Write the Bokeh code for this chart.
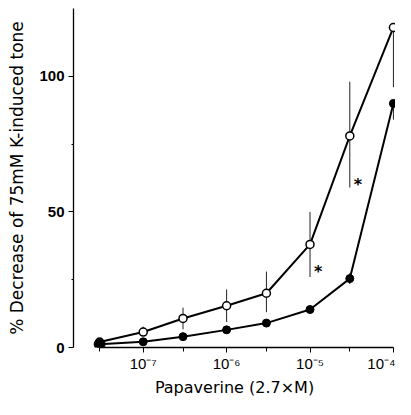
import math
from bokeh.plotting import figure
from bokeh.models import Range1d, FixedTicker, CustomJSTickFormatter, ColumnDataSource
from bokeh.core.properties import value
from bokeh.embed import file_html
from bokeh.resources import INLINE

# concentrations (2.7 x M)
conc = [3e-8, 1e-7, 3e-7, 1e-6, 3e-6, 1e-5, 3e-5, 1e-4]
# open circles
open_mean = [2, 5.7, 10.7, 15.4, 20, 38, 78, 118]
open_err_up = [0, 2, 4, 6, 8, 12, 20, 0]
open_err_dn = [0, 0, 4, 6, 7, 12, 19, 22]
# filled circles
filled_mean = [1.2, 2.1, 4, 6.5, 9, 14, 25.4, 90]
filled_err_up = [0, 0, 0, 0, 0, 0, 2, 0]
filled_err_dn = [0, 0, 0, 0, 0, 0, 2, 6]
# significance marks
star_x = [1e-5, 3e-5]
star_y = [28, 60]
star_txt = ["*", "*"]

y_ticks = [0, 50, 100]
y_minor = [25, 75]
x_ticks = [1e-7, 1e-6, 1e-5, 1e-4]
x_minor = [3e-8, 3e-7, 3e-6, 3e-5]

p = figure(width=395, height=399, x_axis_type="log",
           x_range=Range1d(10 ** -7.836, 10 ** -3.975), y_range=Range1d(0, 125),
           output_backend="svg", toolbar_location=None,
           min_border_left=73, min_border_right=0, min_border_top=8, min_border_bottom=45)
p.outline_line_color = None
p.grid.visible = False
p.background_fill_color = "white"
p.border_fill_color = "white"

src_o = ColumnDataSource(dict(x=conc, y=open_mean,
                              lo=[m - e for m, e in zip(open_mean, open_err_dn)],
                              hi=[min(m + e, 125) for m, e in zip(open_mean, open_err_up)]))
src_f = ColumnDataSource(dict(x=conc, y=filled_mean,
                              lo=[m - e for m, e in zip(filled_mean, filled_err_dn)],
                              hi=[m + e for m, e in zip(filled_mean, filled_err_up)]))

for src in (src_o, src_f):
    p.segment(x0="x", y0="lo", x1="x", y1="hi", source=src, line_color="#222222", line_width=1)

p.line("x", "y", source=src_o, line_color="black", line_width=2)
p.line("x", "y", source=src_f, line_color="black", line_width=2)
p.scatter("x", "y", source=src_f, size=8, fill_color="black", line_color="black")
p.scatter("x", "y", source=src_o, size=8, fill_color="white", line_color="black", line_width=1.5)
p.scatter(x=conc[:1], y=filled_mean[:1], size=11, fill_color="black", line_color="black")

p.text(x=star_x, y=star_y, text=star_txt, x_offset=4, text_baseline="middle", text_align="left",
       text_font=value("DejaVu Sans"), text_font_size="16px", text_font_style="bold",
       text_color="black")

# axes
yax = p.yaxis[0]
yax.ticker = FixedTicker(ticks=y_ticks, minor_ticks=y_minor)
yax.bounds = (0, 125)
yax.axis_label = "% Decrease of 75mM K-induced tone"
yax.axis_label_text_font = "DejaVu Sans"
yax.axis_label_text_font_size = "17px"
yax.axis_label_text_font_style = "normal"
yax.axis_label_standoff = 9
yax.major_label_text_font = "Liberation Sans"
yax.major_label_text_font_size = "15px"
yax.major_label_text_font_style = "bold"
yax.major_label_standoff = 4
yax.major_tick_in = 0
yax.major_tick_out = 5
yax.minor_tick_in = 0
yax.minor_tick_out = 2
yax.axis_line_width = 1.3

xax = p.xaxis[0]
xax.ticker = FixedTicker(ticks=x_ticks, minor_ticks=x_minor)
xax.bounds = (3e-8, 1e-4)
xax.formatter = CustomJSTickFormatter(code="""
const sup = {'-':'\u207b','0':'\u2070','1':'\u00b9','2':'\u00b2','3':'\u00b3','4':'\u2074',
             '5':'\u2075','6':'\u2076','7':'\u2077','8':'\u2078','9':'\u2079'};
const e = Math.round(Math.log10(tick));
return '10' + String(e).split('').map(c => sup[c]).join('');
""")
xax.axis_label = "Papaverine (2.7\u00d7M)"
xax.axis_label_text_font = "DejaVu Sans"
xax.axis_label_text_font_size = "16px"
xax.axis_label_text_font_style = "normal"
xax.axis_label_standoff = 3
xax.major_label_text_font = "Liberation Sans"
xax.major_label_text_font_size = "15px"
xax.major_label_standoff = 2
xax.major_tick_in = 0
xax.major_tick_out = 5
xax.minor_tick_in = 0
xax.minor_tick_out = 4
xax.axis_line_width = 1.3

for ax in (xax, yax):
    ax.axis_line_color = "black"
    ax.major_tick_line_color = "black"
    ax.minor_tick_line_color = "black"
    ax.major_label_text_color = "black"
    ax.axis_label_text_color = "black"

open("out.html", "w").write(file_html(p, INLINE))
